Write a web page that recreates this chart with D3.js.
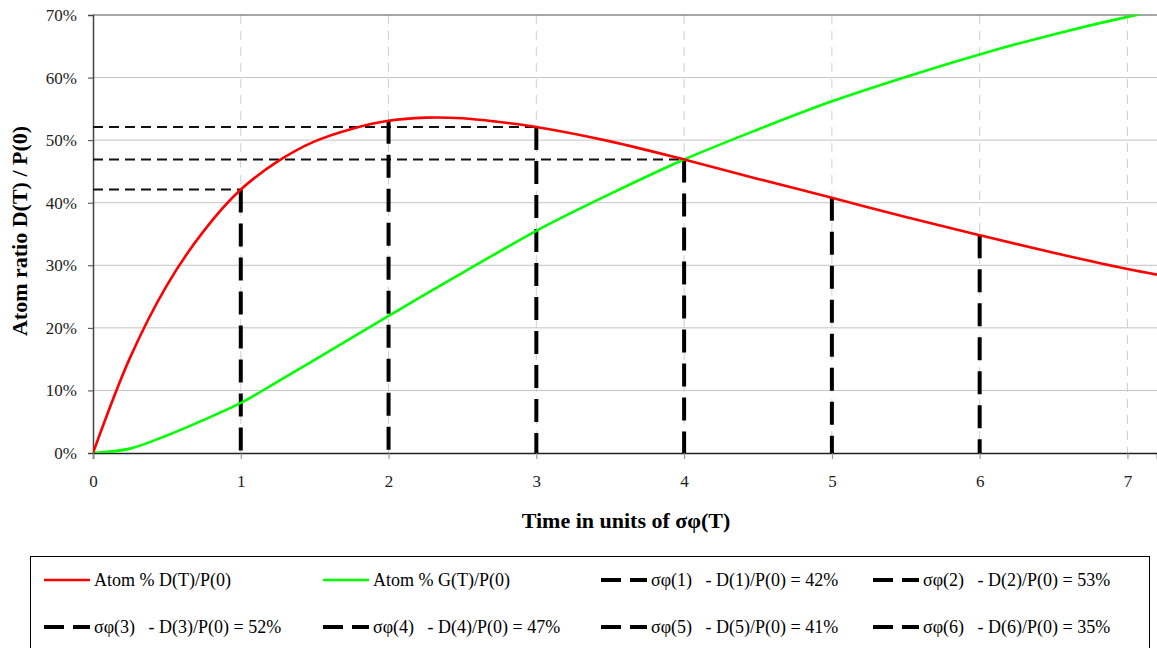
<!DOCTYPE html>
<html>
<head>
<meta charset="utf-8">
<script src="https://cdn.jsdelivr.net/npm/d3@7"></script>
<style>
  html, body { margin: 0; padding: 0; background: #fff; overflow: hidden; }
  svg { display: block; font-family: "Liberation Serif", "Times New Roman", serif; }
</style>
</head>
<body>
<svg id="chart" width="1157" height="648"></svg>
<script>
// values (time in units of sigma-phi, percent)
const timeSteps = [0, 0.25, 0.5, 0.75, 1, 1.25, 1.5, 1.75, 2, 2.25, 2.5, 2.75, 3, 3.5, 4, 4.5, 5, 5.5, 6, 6.5, 7, 7.2];
const daughterPct = [0, 15.2, 26.8, 35.5, 42.1, 46.6, 49.8, 51.8, 53.1, 53.6, 53.5, 52.9, 52.1, 49.8, 46.9, 43.8, 40.8, 37.7, 34.8, 32.0, 29.4, 28.5];
const grandPct = [0, 0.7, 2.8, 5.3, 8.0, 11.4, 14.9, 18.4, 21.9, 25.4, 28.8, 32.2, 35.5, 41.4, 46.9, 51.7, 56.2, 60.1, 63.7, 66.9, 69.7, 70.7];

const guideT = [1, 2, 3, 4, 5, 6];
const guideVal = [42.1, 53.1, 52.1, 46.9, 40.8, 34.8];
const guideLabels = [42, 53, 52, 47, 41, 35];
const hGuideT = [1, 3, 4]; // the ones with a horizontal dashed line too

const xTicks = [0, 1, 2, 3, 4, 5, 6, 7];
const yTicks = [0, 10, 20, 30, 40, 50, 60, 70];

const svg = d3.select("#chart");
const plotL = 93, plotR = 1157, plotT = 15, plotB = 453;

const x = d3.scaleLinear().domain([0, 7.2]).range([plotL, plotR]);
const y = d3.scaleLinear().domain([0, 70]).range([plotB, plotT]);

// clip for the curves
svg.append("defs").append("clipPath").attr("id", "plotclip")
  .append("rect").attr("x", plotL).attr("y", plotT).attr("width", plotR - plotL).attr("height", plotB - plotT);

// horizontal gridlines
svg.append("g").selectAll("line").data(yTicks.filter(d => d > 0 && d < 70)).join("line")
  .attr("x1", plotL).attr("x2", plotR)
  .attr("y1", d => y(d)).attr("y2", d => y(d))
  .attr("stroke", "#c4c4c4").attr("stroke-width", 1);

// vertical dashed gridlines
svg.append("g").selectAll("line").data(xTicks.filter(d => d > 0)).join("line")
  .attr("x1", d => x(d)).attr("x2", d => x(d))
  .attr("y1", plotT).attr("y2", plotB)
  .attr("stroke", "#cfcfcf").attr("stroke-width", 1).attr("stroke-dasharray", "9,7");

// top border of plot area
svg.append("line").attr("x1", plotL).attr("x2", plotR).attr("y1", y(70)).attr("y2", y(70))
  .attr("stroke", "#888").attr("stroke-width", 1.5);

// y axis
const yAxis = d3.axisLeft(y).tickValues(yTicks).tickFormat(d => d + "%").tickSize(5).tickPadding(11);
const gy = svg.append("g").attr("transform", `translate(${plotL},0)`).call(yAxis);
gy.select(".domain").attr("stroke", "#444").attr("stroke-width", 1.5);
gy.selectAll(".tick line").attr("stroke", "#444");
gy.selectAll(".tick text").attr("font-family", "Liberation Serif").attr("font-size", 17).attr("fill", "#222");

// x axis
const xAxis = d3.axisBottom(x).tickValues(xTicks).tickFormat(d3.format("d")).tickSize(6).tickPadding(16);
const gx = svg.append("g").attr("transform", `translate(0,${plotB})`).call(xAxis);
gx.select(".domain").attr("stroke", "#222").attr("stroke-width", 1.5);
gx.selectAll(".tick line").attr("stroke", "#888");
gx.selectAll(".tick text").attr("font-family", "Liberation Serif").attr("font-size", 17).attr("fill", "#222");

// horizontal dashed guides
svg.append("g").selectAll("line").data(hGuideT).join("line")
  .attr("x1", plotL).attr("x2", d => x(d))
  .attr("y1", d => y(guideVal[guideT.indexOf(d)])).attr("y2", d => y(guideVal[guideT.indexOf(d)]))
  .attr("stroke", "#111").attr("stroke-width", 2).attr("stroke-dasharray", "10,6");

// vertical dashed guides
svg.append("g").selectAll("line").data(guideT).join("line")
  .attr("x1", d => x(d)).attr("x2", d => x(d))
  .attr("y1", (d, i) => y(guideVal[i])).attr("y2", y(0))
  .attr("stroke", "#000").attr("stroke-width", 4).attr("stroke-dasharray", "23,11");

// curves (catmull-rom keeps the red peak round, monotone keeps green flat at 0)
const redLine = d3.line().curve(d3.curveCatmullRom.alpha(0.5));
const greenLine = d3.line().curve(d3.curveMonotoneX);
const curves = svg.append("g").attr("clip-path", "url(#plotclip)");
curves.append("path")
  .attr("d", greenLine(timeSteps.map((t, i) => [x(t), y(grandPct[i])])))
  .attr("fill", "none").attr("stroke", "#00ff00").attr("stroke-width", 2.6);
curves.append("path")
  .attr("d", redLine(timeSteps.map((t, i) => [x(t), y(daughterPct[i])])))
  .attr("fill", "none").attr("stroke", "#ff0000").attr("stroke-width", 2.6);

// axis titles
svg.append("text").attr("x", 626).attr("y", 528).attr("text-anchor", "middle")
  .attr("font-weight", "bold").attr("font-size", 22).attr("fill", "#000")
  .text("Time in units of σφ(T)");
svg.append("text").attr("transform", "translate(27,231) rotate(-90)").attr("text-anchor", "middle")
  .attr("font-weight", "bold").attr("font-size", 22).attr("fill", "#000")
  .text("Atom ratio D(T) / P(0)");

// legend
const legendItems = [
  { label: "Atom % D(T)/P(0)", color: "#ff0000", dash: null },
  { label: "Atom % G(T)/P(0)", color: "#00ff00", dash: null }
].concat(guideT.map((t, i) => ({
  label: `σφ(${t})   - D(${t})/P(0) = ${guideLabels[i]}%`, color: "#000", dash: "20,9"
})));
const colX = [44, 323, 601, 873];
const rowY = [580, 627];

svg.append("rect").attr("x", 30.5).attr("y", 556.5).attr("width", 1119).attr("height", 110)
  .attr("fill", "#fff").attr("stroke", "#000").attr("stroke-width", 1);

const lg = svg.append("g").selectAll("g").data(legendItems).join("g")
  .attr("transform", (d, i) => `translate(${colX[i % 4]},${rowY[Math.floor(i / 4)]})`);
lg.append("line").attr("x1", 0).attr("x2", 46).attr("y1", 0).attr("y2", 0)
  .attr("stroke", d => d.color).attr("stroke-width", d => d.dash ? 4 : 2.6)
  .attr("stroke-dasharray", d => d.dash);
lg.append("text").attr("x", 50).attr("y", 6).attr("font-size", 18).attr("fill", "#000")
  .style("white-space", "pre").text(d => d.label);
</script>
</body>
</html>
